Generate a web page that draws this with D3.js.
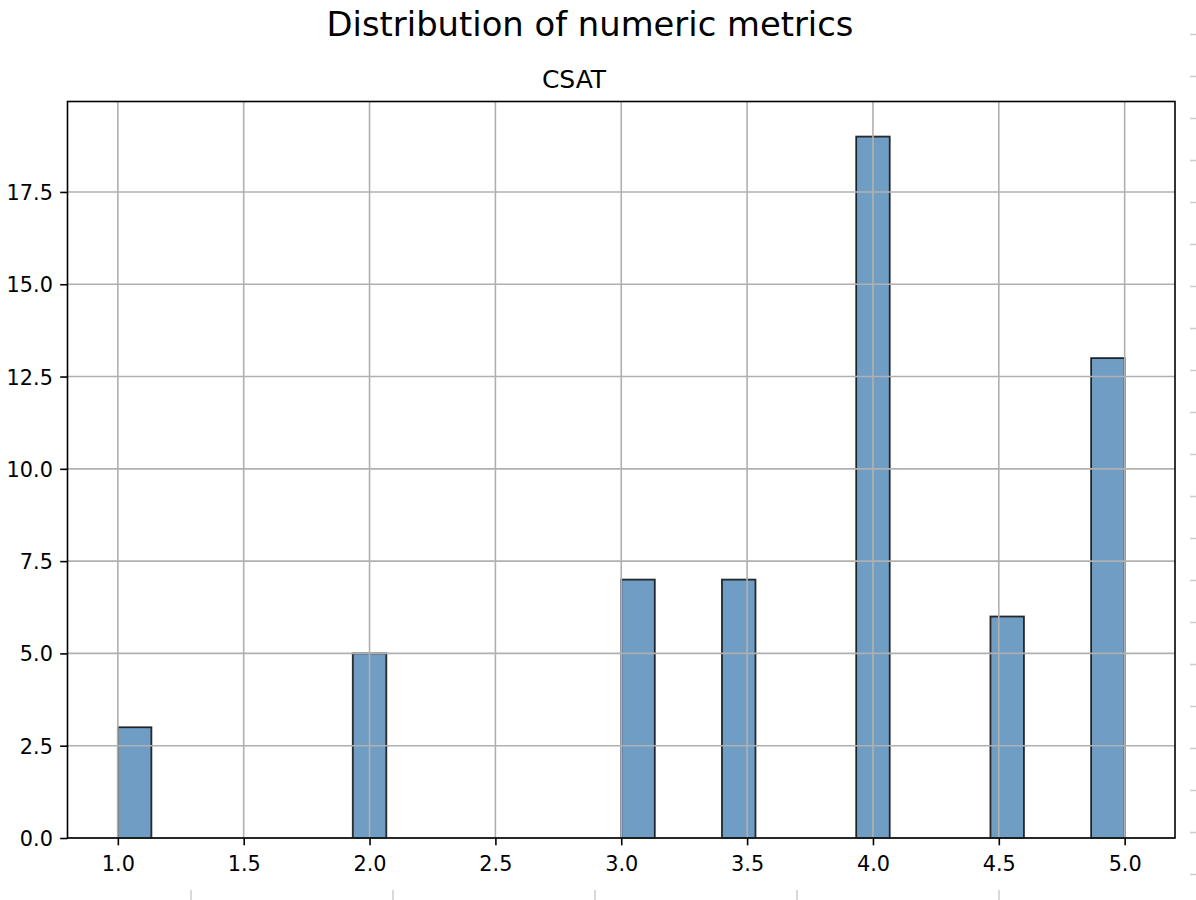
<!DOCTYPE html>
<html>
<head>
<meta charset="utf-8">
<script src="https://cdn.jsdelivr.net/npm/d3@7"></script>
<style>
  html, body { margin: 0; padding: 0; background: #fff; }
  svg { display: block; font-family: "DejaVu Sans", sans-serif; }
</style>
</head>
<body>
<svg id="chart" width="1196" height="900"></svg>
<script>
// ---- data ----
const suptitle = "Distribution of numeric metrics";
const panelTitle = "CSAT";
const binRange = [1.0, 5.0];
const binCount = 30;
// counts per bin (30 equal-width bins between 1.0 and 5.0)
const binCounts = [3,0,0,0,0,0,0,5,0,0,0,0,0,0,0,7,0,0,7,0,0,0,19,0,0,0,6,0,0,13];
const xTicks = [1.0, 1.5, 2.0, 2.5, 3.0, 3.5, 4.0, 4.5, 5.0];
const yTicks = [0, 2.5, 5.0, 7.5, 10.0, 12.5, 15.0, 17.5];
// faint clipped tick marks of neighbouring panels visible at the figure edges
const edgeTicksBottom = [191, 393, 595, 797, 999];
const edgeTicksRight = d3.range(0, 21);

// ---- layout ----
const svg = d3.select("#chart");
const L = 67.5, R = 1175, T = 101.5, B = 838;
const width = R - L, height = B - T;
const tick = 7.3, pad = 7.3;

const binW = (binRange[1] - binRange[0]) / binCount;
const bins = binCounts.map((c, i) => ({ x0: binRange[0] + i * binW, x1: binRange[0] + (i + 1) * binW, count: c }));

const xSpan = binRange[1] - binRange[0];
const x = d3.scaleLinear().domain([binRange[0] - 0.05 * xSpan, binRange[1] + 0.05 * xSpan]).range([L, R]);
const yMax = d3.max(binCounts);
const y = d3.scaleLinear().domain([0, yMax * 1.05]).range([B, T]);

// bars
svg.append("g").selectAll("rect")
  .data(bins.filter(d => d.count > 0))
  .join("rect")
  .attr("x", d => x(d.x0))
  .attr("width", d => x(d.x1) - x(d.x0))
  .attr("y", d => y(d.count))
  .attr("height", d => y(0) - y(d.count))
  .attr("fill", "rgba(70,130,180,0.78)")
  .attr("stroke", "rgba(0,0,0,0.8)")
  .attr("stroke-width", 1.8);

// grid (drawn above bars, as in the source)
const grid = svg.append("g").attr("stroke", "#b0b0b0").attr("stroke-width", 1.6);
grid.selectAll("line.gx").data(xTicks).join("line")
  .attr("x1", d => x(d)).attr("x2", d => x(d)).attr("y1", T).attr("y2", B);
grid.selectAll("line.gy").data(yTicks).join("line")
  .attr("y1", d => y(d)).attr("y2", d => y(d)).attr("x1", L).attr("x2", R);

// axes
const xAxis = d3.axisBottom(x).tickValues(xTicks).tickFormat(d3.format(".1f"))
  .tickSizeInner(tick).tickSizeOuter(0).tickPadding(pad);
const yAxis = d3.axisLeft(y).tickValues(yTicks).tickFormat(d3.format(".1f"))
  .tickSizeInner(tick).tickSizeOuter(0).tickPadding(pad);

const gx = svg.append("g").attr("transform", `translate(0,${B})`).call(xAxis);
const gy = svg.append("g").attr("transform", `translate(${L},0)`).call(yAxis);
[gx, gy].forEach(g => {
  g.select(".domain").remove();
  g.selectAll(".tick line").attr("stroke", "#000").attr("stroke-width", 1.6);
  g.selectAll(".tick text").attr("fill", "#000").attr("font-size", 20.8)
    .attr("font-family", "DejaVu Sans");
});
gx.selectAll(".tick text").attr("dy", null).attr("y", 33);
gy.selectAll(".tick text").attr("dy", "0.36em");

// spines
svg.append("rect").attr("x", L).attr("y", T).attr("width", width).attr("height", height)
  .attr("fill", "none").attr("stroke", "#000").attr("stroke-width", 1.6);

// titles
svg.append("text").attr("x", 590).attr("y", 36).attr("text-anchor", "middle")
  .attr("font-size", 33.8).attr("fill", "#000").text(suptitle);
svg.append("text").attr("x", 574).attr("y", 88).attr("text-anchor", "middle")
  .attr("font-size", 25).attr("fill", "#000").text(panelTitle);

// faint edge ticks
const edge = svg.append("g").attr("stroke", "#cccccc").attr("stroke-width", 1.5);
edge.selectAll("line.b").data(edgeTicksBottom).join("line")
  .attr("x1", d => d).attr("x2", d => d).attr("y1", 890).attr("y2", 900);
edge.selectAll("line.r").data(edgeTicksRight).join("line")
  .attr("x1", 1190).attr("x2", 1196).attr("y1", d => 34.5 + d * 42).attr("y2", d => 34.5 + d * 42);
</script>
</body>
</html>
